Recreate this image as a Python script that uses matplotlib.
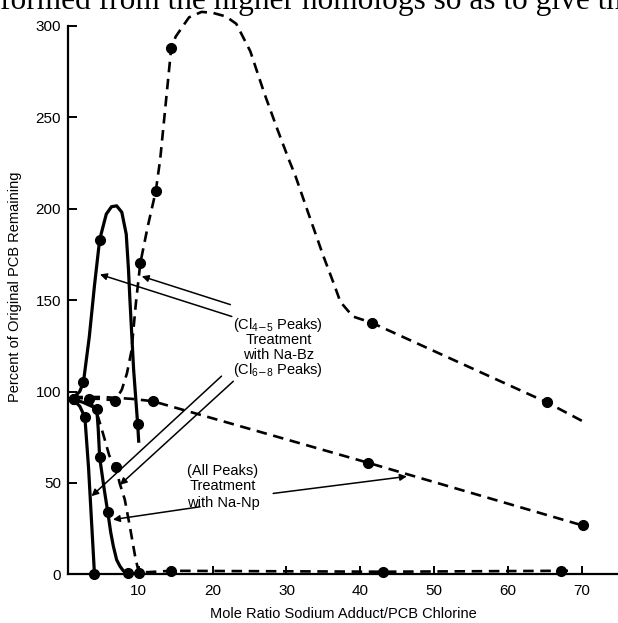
import matplotlib
matplotlib.use("Agg")
import matplotlib.pyplot as plt

plt.rcParams['font.family'] = ['Liberation Sans', 'DejaVu Sans']
plt.rcParams['mathtext.default'] = 'regular'

# dots (x = mole ratio, y = percent remaining)
bz45_x = [1.2, 2.5, 4.7, 9.85]
bz45_y = [96, 105, 183, 82]
bz68_x = [1.2, 2.7, 4.0]
bz68_y = [96, 86, 0]
np_x = [1.2, 4.3, 4.7, 5.8, 8.5]
np_y = [96, 90.7, 64, 34, 1]
up_x = [3.3, 6.8, 10.2, 12.3, 14.4, 41.6, 65.3]
up_y = [96, 95, 170, 209.5, 288, 137.5, 94]
mid_x = [11.9, 41.1, 70.1]
mid_y = [94.7, 61, 26.8]
low_x = [6.9, 10.0, 14.4, 43.1, 67.2]
low_y = [58.6, 1, 2, 1.5, 2]

# hand drawn curves
bz45_cx = [1.0, 2.0, 2.5, 3.3, 4.0, 4.7, 5.6, 6.3, 7.0, 7.7, 8.3, 8.6, 8.8, 9.3, 9.85, 10.0]
bz45_cy = [96, 100, 105, 130, 158, 183, 197, 201, 201.5, 198, 186, 167, 150, 112, 82, 72]
bz68_cx = [1.0, 2.0, 2.7, 3.2, 3.6, 4.0]
bz68_cy = [96, 92, 86, 58, 29, 0]
np_cx = [1.0, 2.5, 4.3, 4.5, 4.7, 5.3, 5.8, 6.2, 6.55, 7.0, 7.45, 7.9, 8.5]
np_cy = [96, 94, 90.7, 80, 64, 47, 34, 23, 15.5, 8, 4.5, 2, 1]
up_cx = [1.0, 3.3, 5.0, 6.8, 7.7, 8.4, 9.0, 9.6, 10.2, 11.2, 12.3, 12.9, 14.4, 15.0,
         16.8, 18.5, 20.0, 21.8, 23.2, 25.1, 27.0, 28.8, 30.3, 31.2, 33.0, 35.0, 36.5,
         37.3, 39.0, 41.6, 65.3, 70.0]
up_cy = [97, 96, 96, 95, 101, 110, 122, 148, 170, 190, 209.5, 227, 288, 294,
         304.5, 307.5, 307, 305, 301, 286, 263, 243, 227, 218, 197, 174, 158,
         149, 141, 137.5, 94, 84]
mid_cx = [1.0, 5.0, 9.0, 11.9, 41.1, 70.1]
mid_cy = [97, 97, 96, 94.7, 61, 26.8]
low_cx = [1.0, 3.3, 4.5, 5.3, 6.0, 6.9, 7.4, 8.1, 8.8, 9.5, 10.0, 14.4, 43.1, 67.2, 69.0]
low_cy = [97, 96, 86, 75, 65, 58.6, 50, 41, 26, 10, 1, 2, 1.5, 2, 2]

x_ticks = [10, 20, 30, 40, 50, 60, 70]
y_ticks = [0, 50, 100, 150, 200, 250, 300]

fig = plt.figure(figsize=(6.18, 6.23), dpi=100)
ax = fig.add_axes([0.110, 0.0779, 0.89, 0.9221])

dash = (0, (4.0, 2.5))
for cx, cy in [(bz45_cx, bz45_cy), (bz68_cx, bz68_cy), (np_cx, np_cy)]:
    ax.plot(cx, cy, color='black', lw=2.3, clip_on=False, solid_capstyle='butt')
for cx, cy in [(up_cx, up_cy), (mid_cx, mid_cy), (low_cx, low_cy)]:
    ax.plot(cx, cy, color='black', lw=1.9, linestyle=dash, clip_on=False)

for dx, dy in [(bz45_x, bz45_y), (bz68_x, bz68_y), (np_x, np_y),
               (up_x, up_y), (mid_x, mid_y), (low_x, low_y)]:
    ax.plot(dx, dy, 'o', color='black', ms=7, clip_on=False, zorder=5)

# labels and arrows
txt = dict(ha='center', va='center', fontsize=10.5)
ax.text(28.9, 136.6, '(Cl$_{4\\mathrm{-}5}$ Peaks)', **txt)
ax.text(28.9, 128.4, 'Treatment', **txt)
ax.text(28.9, 120.2, 'with Na-Bz', **txt)
ax.text(28.9, 112.0, '(Cl$_{6\\mathrm{-}8}$ Peaks)', **txt)
ax.text(21.4, 56.3, '(All Peaks)', **txt)
ax.text(21.4, 48.1, 'Treatment', **txt)
ax.text(21.4, 39.3, 'with Na-Np', **txt)

arr = dict(arrowstyle='-|>', color='black', lw=1.1, mutation_scale=10, shrinkA=0, shrinkB=0)
for tail, head in [((22.4, 147.5), (10.4, 163)),
                   ((22.6, 141.0), (4.74, 164)),
                   ((21.2, 108.4), (3.6, 42.8)),
                   ((22.8, 105.6), (7.45, 49)),
                   ((28.2, 44.3), (46.3, 53.6)),
                   ((18.3, 37.0), (6.5, 30))]:
    ax.annotate('', xy=head, xytext=tail, arrowprops=arr)

ax.set_xlim(0.41, 74.9)
ax.set_ylim(0, 314)
ax.set_xticks(x_ticks)
ax.set_yticks(y_ticks)
ax.spines['top'].set_visible(False)
ax.spines['right'].set_visible(False)
ax.spines['left'].set_bounds(0, 300)
ax.spines['left'].set_linewidth(1.6)
ax.spines['bottom'].set_linewidth(1.6)
ax.tick_params(direction='in', length=6.5, width=1.4, labelsize=11, pad=5)
ax.tick_params(axis='x', length=5.5, pad=7)
ax.set_xlabel('Mole Ratio Sodium Adduct/PCB Chlorine', fontsize=10.5, labelpad=6)
ax.set_ylabel('Percent of Original PCB Remaining', fontsize=10.5, labelpad=10)

# top line of the scanned page, cut by the picture's edge as in the scan
fig.text(0.0, 1 - 9 / 623, 'formed from the higher homologs so as to give th',
         family='Liberation Serif', fontsize=22.6, va='baseline', ha='left')

fig.savefig('out.png', dpi=100)
